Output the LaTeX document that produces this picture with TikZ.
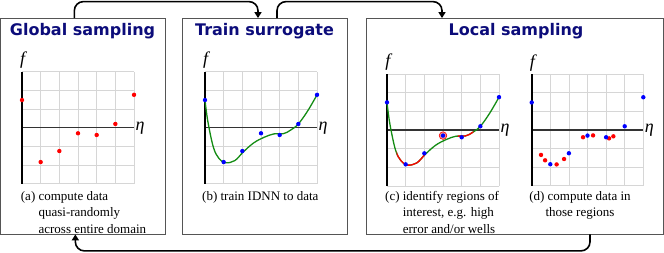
\documentclass[tikz,border=0pt]{standalone}
\usepackage{fontspec}
\setmainfont{Liberation Serif}
\newfontfamily\titlefont{DejaVu Sans}
\usetikzlibrary{arrows.meta,calc}
\definecolor{navy}{RGB}{12,12,122}
\definecolor{gridgray}{RGB}{214,214,214}
\definecolor{boxgray}{RGB}{85,85,85}
\definecolor{curvegreen}{RGB}{20,140,20}
\definecolor{ringpink}{RGB}{240,150,150}
\tikzset{
  panel/.style={draw=boxgray, line width=0.8pt, rectangle, inner sep=0pt},
  title/.style={font=\titlefont\bfseries\fontsize{16}{19}\selectfont, text=navy, inner sep=0pt, anchor=base},
  caption/.style={font=\fontsize{13}{16.5}\selectfont, inner sep=0pt},
  axislabel/.style={font=\itshape\fontsize{18}{20}\selectfont, inner sep=0pt},
  flow/.style={line width=1.6pt, rounded corners=9pt, -{Triangle[width=7pt,length=6pt]}},
  gridline/.style={draw=gridgray, line width=0.7pt},
  vaxis/.style={line width=1.6pt, black},
  haxis/.style={line width=1.6pt, black!80},
  curveline/.style={line width=1.3pt}
}
\newcommand\plotframe[1]{%
  \foreach \i in {0,...,6} \draw[gridline] (\i,-3) -- (\i,3);
  \foreach \j in {-3,...,3} \draw[gridline] (0,\j) -- (6,\j);
  \draw[haxis] (0,0) -- (6,0);
  \draw[vaxis] (0,-3) -- (0,3);
  \node[axislabel] (#1f) at (0.04,3.62) {f};
  \node[axislabel] (#1eta) at (6.32,0) {η};
}
\newcommand\datadots[1]{%
  \foreach \px/\py in {0/1.48,1/-1.84,2/-1.25,3/-0.3,4/-0.39,5/0.2,6/1.76}
    \fill[#1] (\px,\py) circle[radius=2.2pt];
}
\newcommand\surrogate[1]{%
  \draw[#1] plot[smooth,tension=0.6] coordinates {(0,1.48) (0.15,0.35) (0.45,-1.05) (0.75,-1.65) (1.1,-1.88) (1.6,-1.76) (2.05,-1.3) (2.6,-0.82) (3.15,-0.52) (3.7,-0.33) (4.2,-0.32) (4.6,-0.12) (5,0.2) (5.5,0.9) (6,1.76)};
}
\begin{document}
\begin{tikzpicture}[x=1pt,y=-1pt]
\useasboundingbox (0,0) rectangle (664,253);
% panels
\node[panel, minimum width=164.3pt, minimum height=215.5pt] (g) at (82.85,126.25) {};
\node[panel, minimum width=165pt, minimum height=215.5pt] (t) at (264.5,126.25) {};
\node[panel, minimum width=297pt, minimum height=215.5pt] (l) at (514.5,126.25) {};
% titles
\node[title] (gtitle) at (82.5,35.5) {Global sampling};
\node[title] (ttitle) at (264.5,35.5) {Train surrogate};
\node[title] (ltitle) at (516,35.5) {Local sampling};
% plot a
\begin{scope}[shift={(22,127.7)}, x=18.67pt, y=18.67pt]
  \plotframe{a}
  \datadots{red}
\end{scope}
% plot b
\begin{scope}[shift={(205,127.7)}, x=18.67pt, y=18.67pt]
  \plotframe{b}
  \surrogate{curvegreen,curveline}
  \datadots{blue}
\end{scope}
% plot c
\begin{scope}[shift={(387,130)}, x=18.67pt, y=18.67pt]
  \plotframe{c}
  \surrogate{curvegreen,curveline}
  \begin{scope}
    \clip (0.52,-3) rectangle (2.02,3);
    \surrogate{red,curveline}
  \end{scope}
  \begin{scope}
    \clip (3.8,-3) rectangle (4.62,3);
    \surrogate{red,curveline}
  \end{scope}
  \filldraw[fill=ringpink, draw=red, line width=0.6pt] (3,-0.3) circle[radius=3.8pt];
  \datadots{blue}
\end{scope}
% plot d
\begin{scope}[shift={(531.7,130)}, x=18.6pt, y=18.6pt]
  \plotframe{d}
  \foreach \px/\py in {0.5/-1.34,0.72/-1.63,1.34/-1.85,1.74/-1.56,2.76/-0.39,3.3/-0.29,4.16/-0.45,4.39/-0.34}
    \fill[red] (\px,\py) circle[radius=2.2pt];
  \datadots{blue}
\end{scope}
% captions
\node[caption, anchor=north west, align=left] (capa) at (20.7,191) {(a) compute data\\\phantom{(a) }quasi-randomly\\\phantom{(a) }across entire domain};
\node[caption, anchor=north west] (capb) at (202,191) {(b) train IDNN to data};
\node[caption, anchor=north west, align=left] (capc) at (385,191) {(c) identify regions of\\\phantom{(c) }interest, e.g. high\\\phantom{(c) }error and/or wells};
\node[caption, anchor=north, align=center] (capd) at (580,191) {(d) compute data in\\those regions};
% connectors
\draw[flow] ([xshift=-8.5pt]g.north) -- ++(0,-16.5) -| ([xshift=-6.5pt]t.north);
\draw[flow] ([xshift=12.5pt]t.north) -- ++(0,-16.5) -| ([xshift=-72.5pt]l.north);
\draw[flow] ([xshift=75.5pt]l.south) -- ++(0,16.5) -| ([xshift=-7.5pt]g.south);
\end{tikzpicture}
\end{document}
